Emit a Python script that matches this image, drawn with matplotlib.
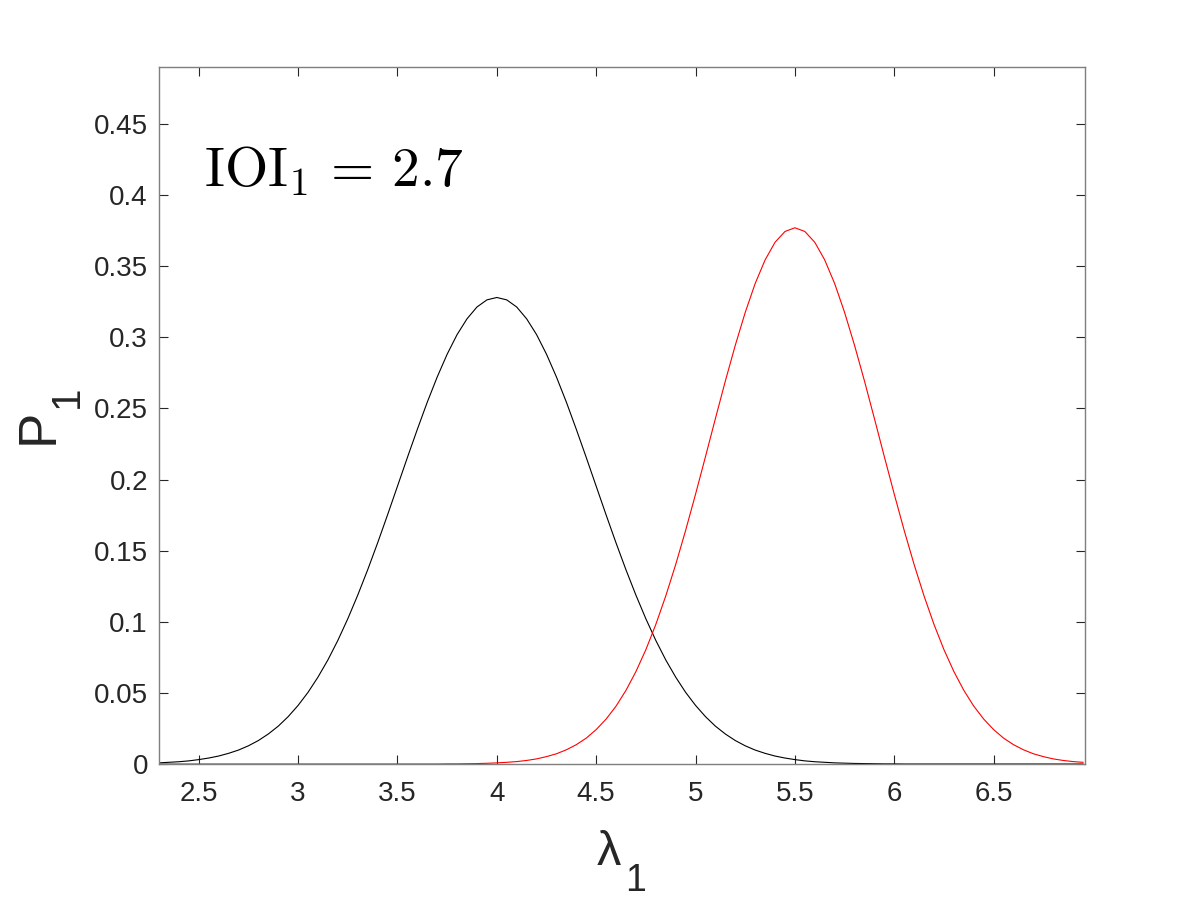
import matplotlib
matplotlib.use('Agg')
import matplotlib.pyplot as plt

# ── Data (lambda_1 grid, step 0.05) ───────────────────────────────────────────
LAMBDA = [2.30, 2.35, 2.40, 2.45, 2.50, 2.55, 2.60, 2.65, 2.70, 2.75,
          2.80, 2.85, 2.90, 2.95, 3.00, 3.05, 3.10, 3.15, 3.20, 3.25,
          3.30, 3.35, 3.40, 3.45, 3.50, 3.55, 3.60, 3.65, 3.70, 3.75,
          3.80, 3.85, 3.90, 3.95, 4.00, 4.05, 4.10, 4.15, 4.20, 4.25,
          4.30, 4.35, 4.40, 4.45, 4.50, 4.55, 4.60, 4.65, 4.70, 4.75,
          4.80, 4.85, 4.90, 4.95, 5.00, 5.05, 5.10, 5.15, 5.20, 5.25,
          5.30, 5.35, 5.40, 5.45, 5.50, 5.55, 5.60, 5.65, 5.70, 5.75,
          5.80, 5.85, 5.90, 5.95, 6.00, 6.05, 6.10, 6.15, 6.20, 6.25,
          6.30, 6.35, 6.40, 6.45, 6.50, 6.55, 6.60, 6.65, 6.70, 6.75,
          6.80, 6.85, 6.90, 6.95]

P_BLACK = [0.0008, 0.0012, 0.0016, 0.0022, 0.0031, 0.0042, 0.0056, 0.0075, 0.0098, 0.0128,
           0.0165, 0.0211, 0.0266, 0.0333, 0.0412, 0.0504, 0.0611, 0.0732, 0.0869, 0.1021,
           0.1187, 0.1365, 0.1554, 0.1751, 0.1953, 0.2155, 0.2353, 0.2544, 0.2721, 0.2881,
           0.3019, 0.3130, 0.3213, 0.3263, 0.3280, 0.3263, 0.3213, 0.3130, 0.3019, 0.2881,
           0.2721, 0.2544, 0.2353, 0.2155, 0.1953, 0.1751, 0.1554, 0.1365, 0.1187, 0.1021,
           0.0869, 0.0732, 0.0611, 0.0504, 0.0412, 0.0333, 0.0266, 0.0211, 0.0165, 0.0128,
           0.0098, 0.0075, 0.0056, 0.0042, 0.0031, 0.0022, 0.0016, 0.0012, 0.0008, 0.0006,
           0.0004, 0.0003, 0.0002, 0.0001, 0.0001, 0.0, 0.0, 0.0, 0.0, 0.0,
           0.0, 0.0, 0.0, 0.0, 0.0, 0.0, 0.0, 0.0, 0.0, 0.0,
           0.0, 0.0, 0.0, 0.0]

P_RED = [0.0, 0.0, 0.0, 0.0, 0.0, 0.0, 0.0, 0.0, 0.0, 0.0,
         0.0, 0.0, 0.0, 0.0, 0.0, 0.0, 0.0, 0.0, 0.0, 0.0,
         0.0, 0.0, 0.0, 0.0, 0.0, 0.0, 0.0, 0.0, 0.0, 0.0001,
         0.0001, 0.0002, 0.0003, 0.0005, 0.0008, 0.0012, 0.0017, 0.0025, 0.0036, 0.0052,
         0.0072, 0.0100, 0.0136, 0.0182, 0.0242, 0.0316, 0.0407, 0.0518, 0.0650, 0.0804,
         0.0981, 0.1181, 0.1402, 0.1642, 0.1897, 0.2161, 0.2429, 0.2693, 0.2944, 0.3175,
         0.3378, 0.3544, 0.3668, 0.3744, 0.3770, 0.3744, 0.3668, 0.3544, 0.3378, 0.3175,
         0.2944, 0.2693, 0.2429, 0.2161, 0.1897, 0.1642, 0.1402, 0.1181, 0.0981, 0.0804,
         0.0650, 0.0518, 0.0407, 0.0316, 0.0242, 0.0182, 0.0136, 0.0100, 0.0072, 0.0052,
         0.0036, 0.0025, 0.0017, 0.0012]

XTICKS = [2.5, 3, 3.5, 4, 4.5, 5, 5.5, 6, 6.5]
XTICKLABELS = ['2.5', '3', '3.5', '4', '4.5', '5', '5.5', '6', '6.5']
YTICKS = [0, 0.05, 0.1, 0.15, 0.2, 0.25, 0.3, 0.35, 0.4, 0.45]
YTICKLABELS = ['0', '0.05', '0.1', '0.15', '0.2', '0.25', '0.3', '0.35', '0.4', '0.45']
ANNOT = r'$\mathrm{IOI}_1\,=\,2.7$'

plt.rcParams['font.family'] = ['Liberation Sans', 'DejaVu Sans']

AX_COL = '#262626'
W, H = 1200, 900

fig = plt.figure(figsize=(12, 9), dpi=100)
ax = fig.add_axes([0.1325, 0.1511, 0.7717, 0.7744])

ax.plot(LAMBDA, P_BLACK, color='k', linewidth=0.8)
ax.plot(LAMBDA, P_RED, color='r', linewidth=0.8)

ax.set_xlim(2.3, 6.96)
ax.set_ylim(0, 0.49)
ax.set_xticks(XTICKS)
ax.set_xticklabels(XTICKLABELS)
ax.set_yticks(YTICKS)
ax.set_yticklabels(YTICKLABELS)
ax.tick_params(direction='in', length=6.5, width=0.8, colors=AX_COL,
               labelsize=20, top=True, right=True)
ax.tick_params(axis='x', pad=12)
ax.tick_params(axis='y', pad=8)
for s in ax.spines.values():
    s.set_color('#7f7f7f')
    s.set_linewidth(1.0)

# MATLAB-style labels: the subscript sits well below the baseline,
# so the base letter and the subscript are placed as separate texts
fig.text(597 / W, 1 - 865 / H, '\u03bb', fontsize=35, color=AX_COL,
         ha='left', va='baseline')
fig.text(625 / W, 1 - 891 / H, '1', fontsize=27, color=AX_COL,
         ha='left', va='baseline')
fig.text(53 / W, 1 - 444 / H, 'P', fontsize=38, color=AX_COL, rotation=90,
         rotation_mode='anchor', ha='left', va='baseline')
fig.text(78 / W, 1 - 408 / H, '1', fontsize=29, color=AX_COL, rotation=90,
         rotation_mode='anchor', ha='left', va='baseline')

ax.text(2.525, 0.406, ANNOT, fontsize=40, math_fontfamily='cm',
        ha='left', va='baseline', color='k')

plt.savefig('out.png', dpi=100)
